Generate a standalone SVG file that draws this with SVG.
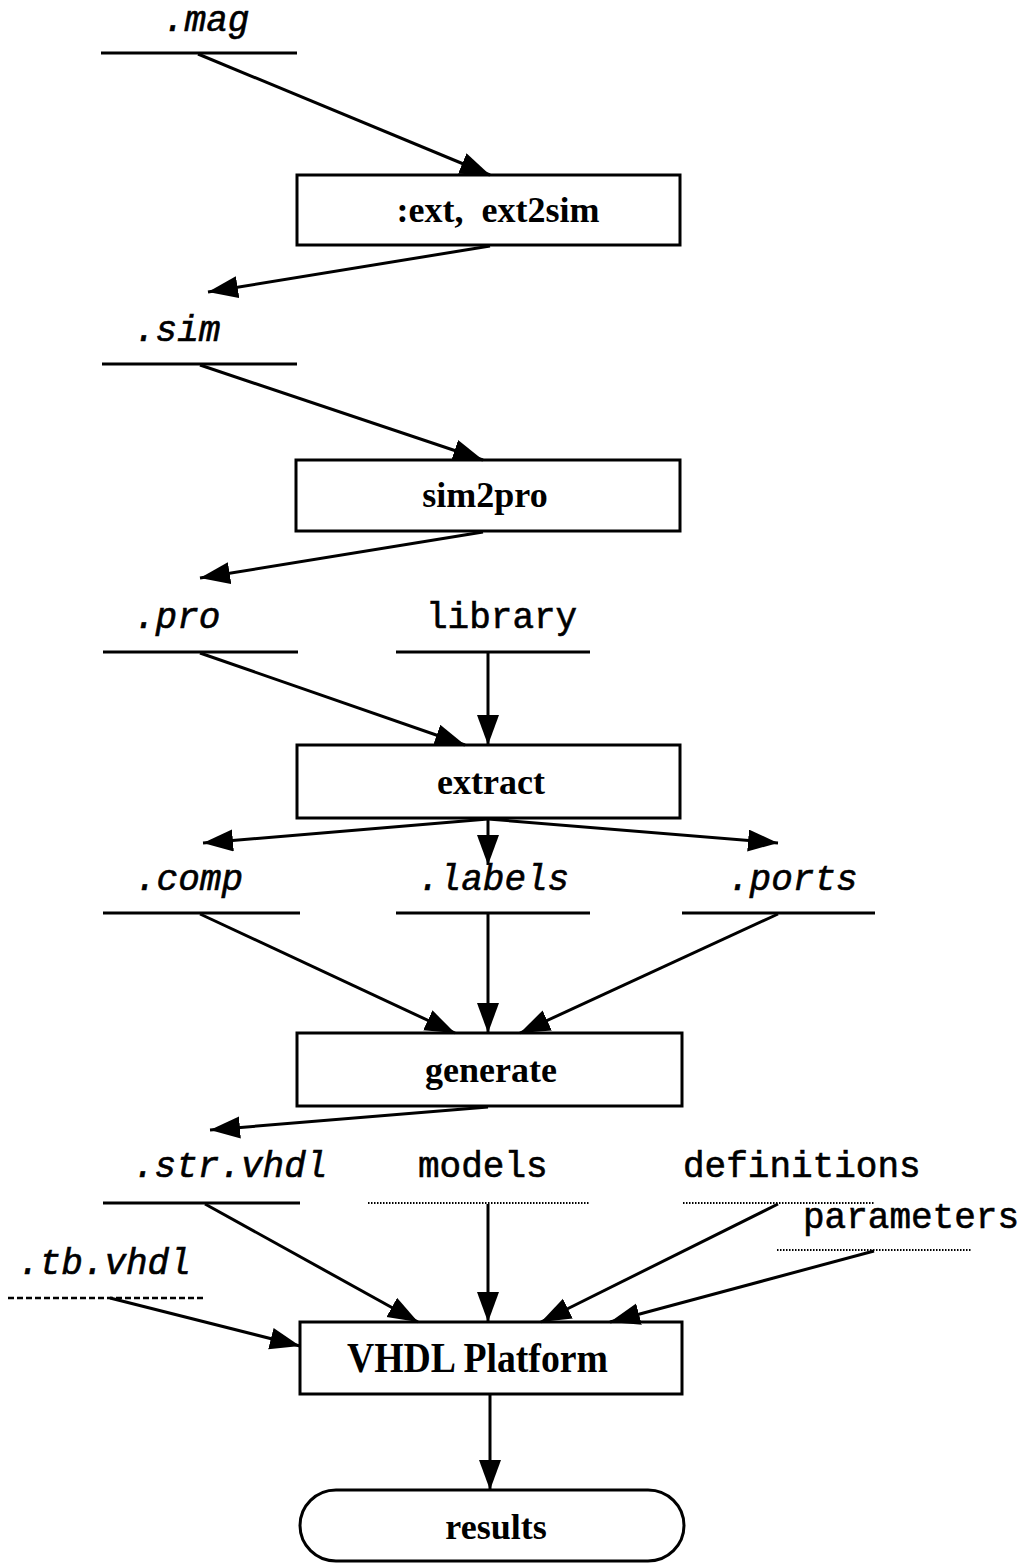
<svg xmlns="http://www.w3.org/2000/svg" width="1035" height="1563" viewBox="0 0 1035 1563">
  <style>
    .box { fill: #fff; stroke: #000; stroke-width: 3; }
    .tool { font-family: "Liberation Serif", "Times New Roman", serif; font-weight: bold; font-size: 36px; text-anchor: middle; fill: #000; }
    .file { font-family: "Liberation Mono", "Courier New", monospace; font-style: italic; font-size: 36px; fill: #000; stroke: #000; stroke-width: 0.6; }
    .data { font-family: "Liberation Mono", "Courier New", monospace; font-size: 36px; fill: #000; stroke: #000; stroke-width: 0.6; }
    .bar { stroke: #000; stroke-width: 3; fill: none; }
    .dots { stroke: #000; stroke-width: 2; stroke-dasharray: 1.5 1.5; fill: none; }
    .dash { stroke: #000; stroke-width: 2.5; stroke-dasharray: 6 3; fill: none; }
    .flow { stroke: #000; stroke-width: 3; fill: none; marker-end: url(#head); }
  </style>
  <defs>
    <marker id="head" markerUnits="userSpaceOnUse" markerWidth="32" markerHeight="24" refX="30" refY="11" orient="auto">
      <path d="M0,0 L30,11 L0,22 z" fill="#000"/>
    </marker>
  </defs>
  <rect width="1035" height="1563" fill="#fff"/>

  <!-- data files -->
  <g id="mag"><text class="file" x="163" y="31">.mag</text><line class="bar" x1="101" y1="53" x2="297" y2="53"/></g>
  <g id="sim"><text class="file" x="134" y="341">.sim</text><line class="bar" x1="102" y1="364" x2="297" y2="364"/></g>
  <g id="pro"><text class="file" x="134" y="628">.pro</text><line class="bar" x1="103" y1="652" x2="298" y2="652"/></g>
  <g id="library"><text class="data" x="426" y="628">library</text><line class="bar" x1="396" y1="652" x2="590" y2="652"/></g>
  <g id="comp"><text class="file" x="135" y="890">.comp</text><line class="bar" x1="103" y1="913" x2="300" y2="913"/></g>
  <g id="labels"><text class="file" x="418" y="890">.labels</text><line class="bar" x1="396" y1="913" x2="590" y2="913"/></g>
  <g id="ports"><text class="file" x="728" y="890">.ports</text><line class="bar" x1="682" y1="913" x2="875" y2="913"/></g>
  <g id="strvhdl"><text class="file" x="133" y="1177">.str.vhdl</text><line class="bar" x1="103" y1="1203" x2="300" y2="1203"/></g>
  <g id="models"><text class="data" x="418" y="1177">models</text><line class="dots" x1="368" y1="1203" x2="590" y2="1203"/></g>
  <g id="definitions"><text class="data" x="683" y="1177">definitions</text><line class="dots" x1="683" y1="1203" x2="875" y2="1203"/></g>
  <g id="parameters"><text class="data" x="803" y="1228">parameters</text><line class="dots" x1="777" y1="1250" x2="972" y2="1250"/></g>
  <g id="tbvhdl"><text class="file" x="18" y="1274">.tb.vhdl</text><line class="dash" x1="8" y1="1298" x2="204" y2="1298"/></g>

  <!-- tools -->
  <g id="ext2sim"><rect class="box" x="297" y="175" width="383" height="70"/><text class="tool" x="498" y="222" xml:space="preserve">:ext,  ext2sim</text></g>
  <g id="sim2pro"><rect class="box" x="296" y="460" width="384" height="71"/><text class="tool" x="485" y="507">sim2pro</text></g>
  <g id="extract"><rect class="box" x="297" y="745" width="383" height="73"/><text class="tool" x="491" y="794">extract</text></g>
  <g id="generate"><rect class="box" x="297" y="1033" width="385" height="73"/><text class="tool" x="491" y="1082">generate</text></g>
  <g id="platform"><rect class="box" x="300" y="1322" width="382" height="72"/><text class="tool" x="347" y="1372" style="font-size:42px;text-anchor:start" textLength="261" lengthAdjust="spacingAndGlyphs">VHDL Platform</text></g>
  <g id="results"><rect class="box" x="300" y="1490" width="384" height="71" rx="36" ry="36"/><text class="tool" x="496" y="1539">results</text></g>

  <!-- connectors -->
  <g id="connectors">
    <line class="flow" x1="198" y1="54" x2="490" y2="175"/>
    <line class="flow" x1="490" y1="246" x2="208" y2="292"/>
    <line class="flow" x1="200" y1="365" x2="483" y2="460"/>
    <line class="flow" x1="483" y1="532" x2="200" y2="578"/>
    <line class="flow" x1="200" y1="653" x2="465" y2="745"/>
    <line class="flow" x1="488" y1="653" x2="488" y2="745"/>
    <line class="flow" x1="488" y1="819" x2="203" y2="843"/>
    <line class="flow" x1="488" y1="819" x2="488" y2="865"/>
    <line class="flow" x1="488" y1="819" x2="778" y2="843"/>
    <line class="flow" x1="200" y1="914" x2="455" y2="1033"/>
    <line class="flow" x1="488" y1="914" x2="488" y2="1033"/>
    <line class="flow" x1="778" y1="914" x2="520" y2="1033"/>
    <line class="flow" x1="488" y1="1107" x2="210" y2="1130"/>
    <line class="flow" x1="205" y1="1204" x2="418" y2="1322"/>
    <line class="flow" x1="488" y1="1204" x2="488" y2="1322"/>
    <line class="flow" x1="778" y1="1204" x2="541" y2="1322"/>
    <line class="flow" x1="874" y1="1251" x2="610" y2="1322"/>
    <line class="flow" x1="110" y1="1298" x2="300" y2="1346"/>
    <line class="flow" x1="490" y1="1395" x2="490" y2="1490"/>
  </g>
</svg>
